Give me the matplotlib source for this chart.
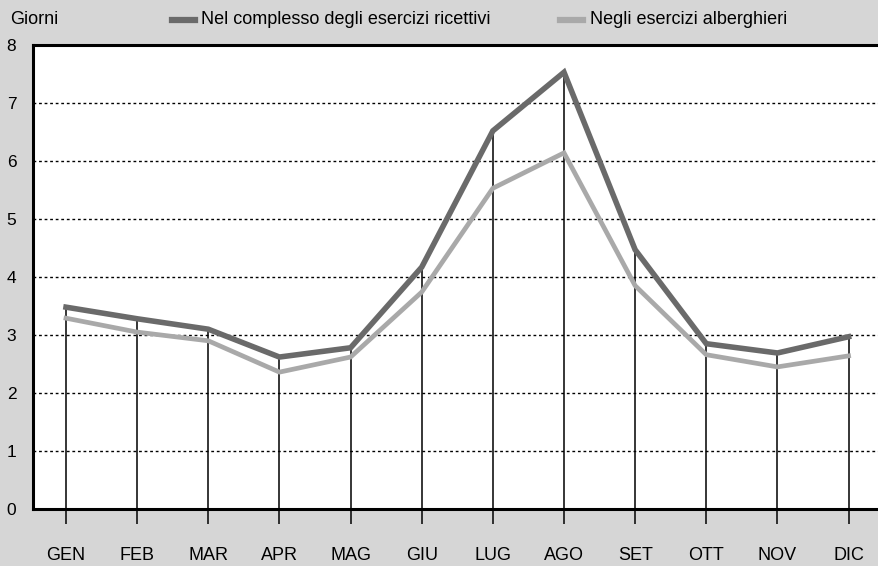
import matplotlib
matplotlib.use("Agg")
import matplotlib.pyplot as plt
from matplotlib.lines import Line2D

months = ["GEN", "FEB", "MAR", "APR", "MAG", "GIU", "LUG", "AGO", "SET", "OTT", "NOV", "DIC"]
totale = [3.48, 3.28, 3.10, 2.62, 2.78, 4.17, 6.52, 7.53, 4.47, 2.85, 2.69, 2.97]
alberghieri = [3.29, 3.05, 2.90, 2.36, 2.62, 3.74, 5.53, 6.14, 3.85, 2.66, 2.45, 2.64]
yticks = [0, 1, 2, 3, 4, 5, 6, 7, 8]
label_tot = "Nel complesso degli esercizi ricettivi"
label_alb = "Negli esercizi alberghieri"

plt.rcParams['font.family'] = ['Liberation Sans', 'DejaVu Sans']

bg = "#d6d6d6"
dark = "#6a6a6a"
light = "#a9a9a9"

fig = plt.figure(figsize=(8.79, 5.66), dpi=100, facecolor=bg)
ax = fig.add_axes([33/879, 57/566, 1.0 - 33/879 + 0.001, (509-45)/566])
ax.set_facecolor("white")

x = list(range(len(months)))
ax.set_xlim(-0.464, 11.44)
ax.set_ylim(0, 8)

# dotted horizontal gridlines
for yv in yticks[1:-1]:
    ax.axhline(yv, color="black", lw=1.0, ls=(0, (2, 2)), zorder=1)

# vertical drop lines from upper series down below the axis
for xi, v in zip(x, totale):
    ax.plot([xi, xi], [-0.26, v], color="black", lw=1.1, zorder=2, clip_on=False,
            solid_capstyle="butt")

ax.plot(x, totale, color=dark, lw=4.0, zorder=3, solid_joinstyle="miter")
ax.plot(x, alberghieri, color=light, lw=3.4, zorder=3, solid_joinstyle="miter")

for s in ["left", "bottom", "top"]:
    ax.spines[s].set_linewidth(2.2)
    ax.spines[s].set_color("black")
ax.spines["right"].set_visible(False)

ax.set_yticks(yticks)
ax.set_yticklabels([str(t) for t in yticks], fontsize=12.5)
ax.tick_params(axis="y", length=0, pad=12)
ax.set_xticks(x)
ax.set_xticklabels(months, fontsize=13)
ax.tick_params(axis="x", length=0, pad=27)

fig.text(10/879, 1 - 19/566, "Giorni", fontsize=13, va="center", ha="left")

# legend
ly = 1 - 20/566
fig.add_artist(Line2D([172/879, 195/879], [ly, ly], color=dark, lw=4.5, transform=fig.transFigure))
fig.text(201/879, ly, label_tot, fontsize=13, va="center", ha="left")
fig.add_artist(Line2D([560/879, 583/879], [ly, ly], color=light, lw=4.5, transform=fig.transFigure))
fig.text(590/879, ly, label_alb, fontsize=13, va="center", ha="left")

fig.savefig("out.png", dpi=100, facecolor=bg)
